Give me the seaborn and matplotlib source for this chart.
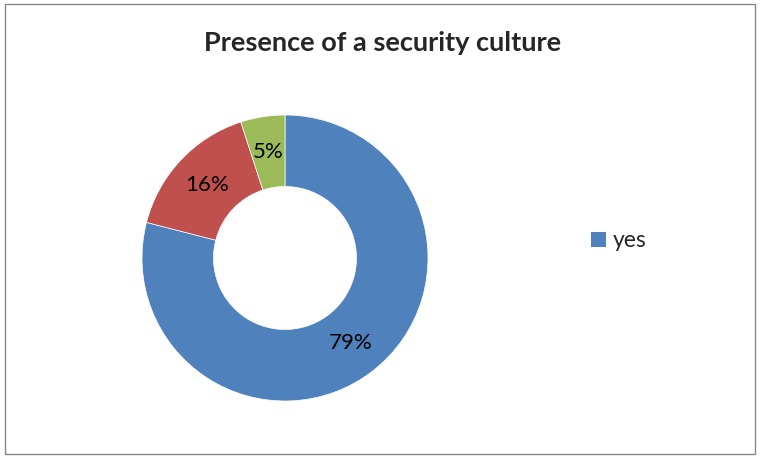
import matplotlib
matplotlib.use("Agg")
import matplotlib.pyplot as plt
import seaborn as sns
from matplotlib.patches import Patch, Rectangle

categories = ["yes", "no", "don't know"]
values = [79, 16, 5]
colors = ["#4F81BD", "#C0504D", "#9BBB59"]
title = "Presence of a security culture"

sns.set_theme(style="white")
plt.rcParams['font.family'] = ['Lato', 'DejaVu Sans']

fig = plt.figure(figsize=(7.6, 4.58), dpi=100)
fig.patch.set_facecolor("white")
fig.patches.append(Rectangle((5/760, 4/458), 750/760, 450/458, transform=fig.transFigure,
                             fill=False, edgecolor="#878787", linewidth=1.0))

ax = fig.add_axes([142/760, 57/458, 286/760, 286/458])
wedges, texts, autotexts = ax.pie(values, colors=colors, startangle=90, counterclock=False,
                                  autopct=lambda p: f"{p:.0f}%", pctdistance=0.75,
                                  wedgeprops=dict(width=0.5, edgecolor="white", linewidth=0.5),
                                  textprops=dict(fontsize=16, color="black"))
ax.set_xlim(-1, 1)
ax.set_ylim(-1, 1)
ax.set_aspect("equal")
ax.axis("off")

fig.text(383/760, 1 - 43/458, title, ha="center", va="center", fontsize=19.5, fontweight="bold")

handles = [Patch(facecolor=colors[0], edgecolor="none", label=categories[0])]
fig.legend(handles=handles, loc="center left", bbox_to_anchor=(570/760, 1 - 241/458),
           frameon=False, fontsize=16.5, handlelength=0.65, handleheight=0.65, handletextpad=0.3)

fig.savefig("out.png", dpi=100)
